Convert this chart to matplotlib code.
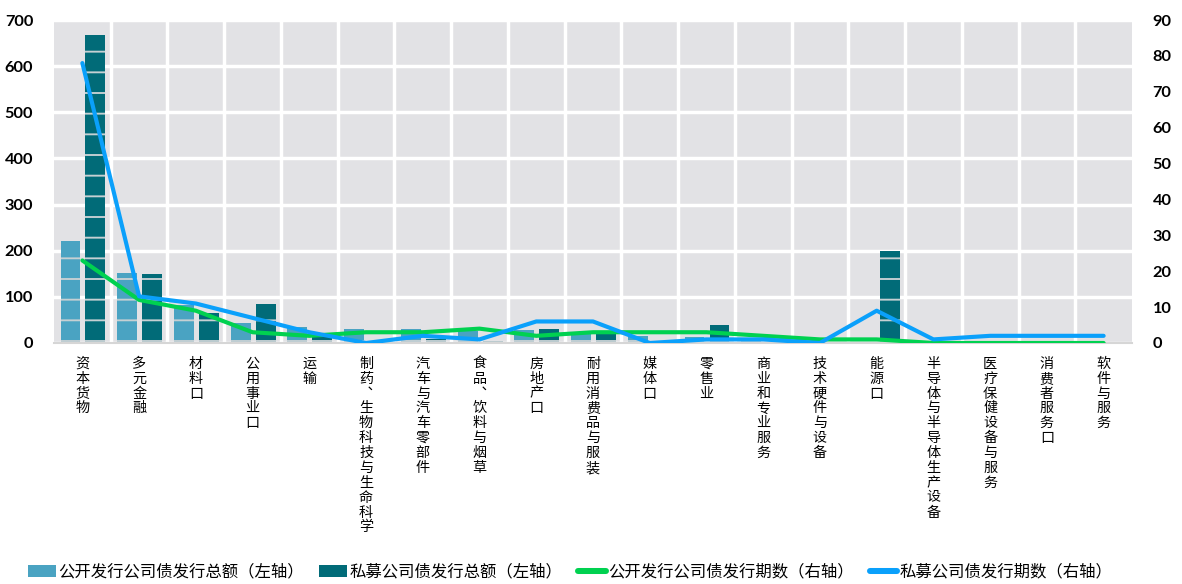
import numpy as np
import matplotlib
matplotlib.use("Agg")
import matplotlib.pyplot as plt
from matplotlib.patches import Patch
from matplotlib.lines import Line2D

# 行业分类
categories = ["资本货物", "多元金融", "材料口", "公用事业口", "运输",
              "制药、生物科技与生命科学", "汽车与汽车零部件", "食品、饮料与烟草",
              "房地产口", "耐用消费品与服装", "媒体口", "零售业", "商业和专业服务",
              "技术硬件与设备", "能源口", "半导体与半导体生产设备",
              "医疗保健设备与服务", "消费者服务口", "软件与服务"]

# 发行总额（左轴）
public_amount = [222, 151, 82, 43, 34, 30, 30, 25, 28, 24, 16, 14, 4, 3, 1, 0, 0, 0, 0]
private_amount = [667, 150, 65, 85, 12, 3, 8, 5, 30, 27, 1, 39, 3, 2, 200, 1, 3, 3, 0]

# 发行期数（右轴）
public_count = [23, 12, 9, 3, 2, 3, 3, 4, 2, 3, 3, 3, 2, 1, 1, 0, 0, 0, 0]
private_count = [78, 13, 11, 7, 3, 0, 2, 1, 6, 6, 0, 1, 1, 0, 9, 1, 2, 2, 2]

left_ticks = list(range(0, 701, 100))
right_ticks = list(range(0, 91, 10))

c_light = "#4aa3c2"
c_dark = "#016b78"
c_green = "#00d150"
c_blue = "#0aa0fb"

plt.rcParams["font.family"] = ["Noto Sans CJK SC", "DejaVu Sans"]
plt.rcParams["hatch.linewidth"] = 1.1
plt.rcParams["hatch.color"] = "#c6d0d3"

DPI = 124
fig = plt.figure(figsize=(1182 / DPI, 584 / DPI), dpi=DPI)
ax = fig.add_axes([54 / 1182, 1 - 343 / 584, (1132 - 54) / 1182, (343 - 20) / 584])
ax.set_facecolor("#e2e2e5")

x = np.arange(len(categories))
ax.bar(x - 0.21, public_amount, width=0.35, color=c_light, hatch="-",
       linewidth=0, zorder=2)
ax.bar(x + 0.23, private_amount, width=0.35, color=c_dark, hatch="-",
       linewidth=0, zorder=2)


def vertical(label):
    # 竖排：每字一行，顿号换成竖排形式
    return "\n".join(label.replace("、", "\ufe11"))


ax.set_xlim(-0.5, len(categories) - 0.5)
ax.set_ylim(0, 700)
ax.set_yticks(left_ticks)
ax.set_xticks(x)
ax.set_xticks(np.arange(0.5, len(categories) - 0.5, 1), minor=True)
ax.set_xticklabels([vertical(c) for c in categories], fontsize=8.2,
                   va="top", linespacing=1.08)
ax.tick_params(axis="x", which="both", length=0, pad=8)
ax.tick_params(axis="y", length=0, pad=12)
for lab in ax.get_yticklabels():
    lab.set_family(["Lato", "DejaVu Sans"])
    lab.set_fontweight("bold")
    lab.set_fontsize(9.5)

ax.grid(axis="y", which="major", color="white", linewidth=2)
ax.grid(axis="x", which="minor", color="white", linewidth=2)
ax.set_axisbelow(True)
for s in ["top", "right", "left"]:
    ax.spines[s].set_visible(False)
ax.spines["bottom"].set_color("#d6d6d6")
ax.spines["bottom"].set_linewidth(1.2)

ax2 = ax.twinx()
ax2.plot(x, public_count, color=c_green, linewidth=2.4, solid_capstyle="round", zorder=3)
ax2.plot(x, private_count, color=c_blue, linewidth=2.4, solid_capstyle="round", zorder=4)
ax2.set_ylim(0, 90)
ax2.set_yticks(right_ticks)
ax2.tick_params(axis="y", length=0, pad=12)
for lab in ax2.get_yticklabels():
    lab.set_family(["Lato", "DejaVu Sans"])
    lab.set_fontweight("bold")
    lab.set_fontsize(9.5)
for s in ax2.spines.values():
    s.set_visible(False)

handles = [
    Patch(facecolor=c_light, label="公开发行公司债发行总额（左轴）"),
    Patch(facecolor=c_dark, label="私募公司债发行总额（左轴）"),
    Line2D([], [], color=c_green, linewidth=3.5, solid_capstyle="round",
           label="公开发行公司债发行期数（右轴）"),
    Line2D([], [], color=c_blue, linewidth=3.5, solid_capstyle="round",
           label="私募公司债发行期数（右轴）"),
]
fig.legend(handles=handles, loc="center left", bbox_to_anchor=(28 / 1182, 12 / 584),
           ncol=4, frameon=False, fontsize=9.5, borderpad=0, borderaxespad=0,
           handlelength=1.7, handleheight=0.8, handletextpad=0.15, columnspacing=0.95)

fig.savefig("out.png", dpi=DPI)
